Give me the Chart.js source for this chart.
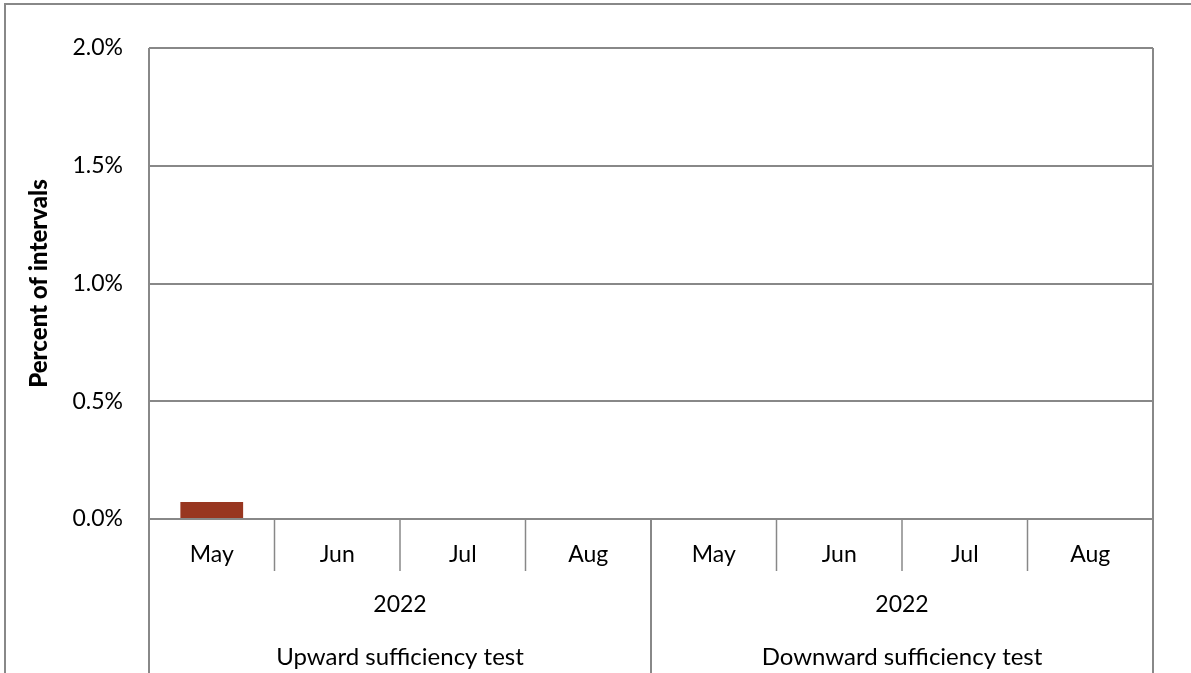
<!DOCTYPE html>
<html>
<head>
<meta charset="utf-8">
<script src="https://cdn.jsdelivr.net/npm/chart.js@4.4.0/dist/chart.umd.min.js"></script>
<style>
  body { margin: 0; background: #fff; }
  #wrap { position: relative; width: 1191px; height: 673px; }
</style>
</head>
<body>
<div id="wrap"><canvas id="myChart" width="1191" height="673"></canvas></div>
<script>
const months = ["May", "Jun", "Jul", "Aug", "May", "Jun", "Jul", "Aug"];
const years = ["2022", "2022"];
const tests = ["Upward sufficiency test", "Downward sufficiency test"];
const percentIntervals = [0.072, 0, 0, 0, 0, 0, 0, 0];
const yTicks = [0, 0.5, 1.0, 1.5, 2.0];

const lineColor = "#888888";
const font = "Lato, 'Open Sans', sans-serif";
const fontSize = 23;

// draws the frame, the group separators and the year / test rows
const groupAxis = {
  id: "groupAxis",
  afterDraw(chart) {
    const ctx = chart.ctx;
    const x = chart.scales.x;
    const area = chart.chartArea;
    const h = chart.height;
    const per = months.length / tests.length;
    const step = x.getPixelForValue(1) - x.getPixelForValue(0);
    const left = x.getPixelForValue(0) - step / 2;
    ctx.save();
    // outer frame
    ctx.strokeStyle = lineColor;
    ctx.lineWidth = 2;
    ctx.beginPath();
    ctx.moveTo(5, h);
    ctx.lineTo(5, 4);
    ctx.lineTo(chart.width, 4);
    ctx.stroke();
    // long separators: plot edges and group boundary
    for (let g = 0; g <= tests.length; g++) {
      const px = left + g * per * step;
      ctx.beginPath();
      ctx.moveTo(px, g === 0 || g === tests.length ? area.top : area.bottom);
      ctx.lineTo(px, h);
      ctx.stroke();
    }
    // month separators
    ctx.lineWidth = 1.5;
    for (let i = 1; i < months.length; i++) {
      if (i % per === 0) continue;
      const px = left + i * step;
      ctx.beginPath();
      ctx.moveTo(px, area.bottom);
      ctx.lineTo(px, area.bottom + 52);
      ctx.stroke();
    }
    // year and test labels
    ctx.fillStyle = "#000";
    ctx.textAlign = "center";
    ctx.textBaseline = "middle";
    for (let g = 0; g < tests.length; g++) {
      const cx = left + (g + 0.5) * per * step;
      ctx.font = fontSize + "px " + font;
      ctx.fillText(years[g], cx, area.bottom + 86);
      ctx.font = "24px " + font;
      ctx.fillText(tests[g], cx, area.bottom + 138);
    }
    ctx.restore();
  }
};

new Chart(document.getElementById("myChart"), {
  type: "bar",
  data: {
    labels: months,
    datasets: [{
      label: "Percent of intervals",
      data: percentIntervals,
      backgroundColor: "#983620",
      barPercentage: 0.5,
      categoryPercentage: 1.0
    }]
  },
  options: {
    responsive: false,
    animation: false,
    layout: { padding: { top: 48, right: 38, left: 0, bottom: 0 } },
    plugins: {
      legend: { display: false },
      tooltip: { enabled: false }
    },
    scales: {
      x: {
        grid: { display: false },
        border: { display: false },
        ticks: { color: "#000", font: { family: font, size: fontSize }, padding: 14 },
        afterFit: s => { s.height = 154; }
      },
      y: {
        min: 0,
        max: 2,
        afterBuildTicks: s => { s.ticks = yTicks.map(v => ({ value: v })); },
        ticks: {
          color: "#000",
          font: { family: font, size: fontSize },
          padding: 26,
          callback: v => v.toFixed(1) + "%"
        },
        grid: { color: lineColor, lineWidth: 2, drawTicks: false },
        border: { display: false },
        title: {
          display: true,
          text: "Percent of intervals",
          color: "#000",
          padding: { top: 25, bottom: 0 },
          font: { family: font, size: 24, weight: "900" }
        },
        afterFit: s => { s.width = 149; }
      }
    }
  },
  plugins: [groupAxis]
});
</script>
</body>
</html>
